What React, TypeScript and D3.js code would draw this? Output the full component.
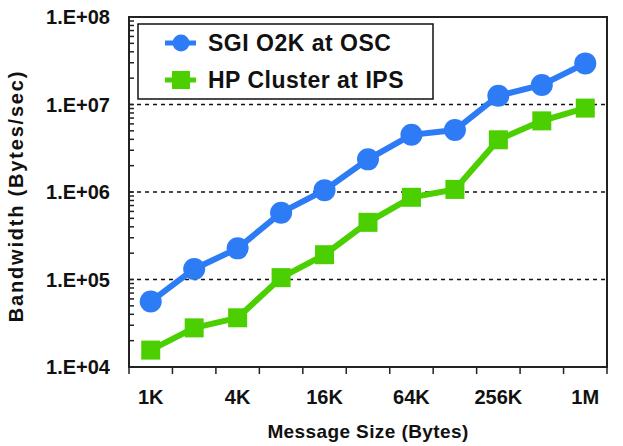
import { useRef, useEffect } from 'react';
import * as d3 from 'd3';

const sizes = ['1K', '2K', '4K', '8K', '16K', '32K', '64K', '128K', '256K', '512K', '1M'];
const shownLabels = ['1K', '4K', '16K', '64K', '256K', '1M'];
const sgiO2K = [5.6e4, 1.32e5, 2.27e5, 5.8e5, 1.05e6, 2.36e6, 4.5e6, 5.1e6, 1.26e7, 1.67e7, 2.95e7];
const hpCluster = [1.56e4, 2.8e4, 3.65e4, 1.05e5, 1.92e5, 4.5e5, 8.7e5, 1.07e6, 3.95e6, 6.5e6, 9.1e6];
const yTicks = [1e4, 1e5, 1e6, 1e7, 1e8];
const gridVals = [1e5, 1e6, 1e7];

const W = 623;
const H = 446;
const BLUE = '#2d7cf6';
const GREEN = '#4ccf00';
const FONT = '"Liberation Sans", Arial, Helvetica, sans-serif';

export default function App() {
  const svgRef = useRef<SVGSVGElement>(null);

  useEffect(() => {
    const svg = d3.select(svgRef.current);
    svg.selectAll('*').remove();

    const pad = { top: 17, right: 16, bottom: 79, left: 129 };
    const x0 = pad.left, x1 = W - pad.right;
    const y0 = H - pad.bottom, y1 = pad.top;

    const x = d3.scaleBand<string>().domain(sizes).range([x0, x1]).paddingInner(0).paddingOuter(0);
    const y = d3.scaleLog().domain([1e4, 1e8]).range([y0, y1]);
    const cx = (s: string) => (x(s) ?? 0) + x.bandwidth() / 2;

    // dashed grid
    gridVals.forEach(v => {
      svg.append('line')
        .attr('x1', x0).attr('x2', x1).attr('y1', y(v)).attr('y2', y(v))
        .attr('stroke', '#111').attr('stroke-width', 1.5).attr('stroke-dasharray', '4,4');
    });

    // frame
    svg.append('rect')
      .attr('x', x0).attr('y', y1).attr('width', x1 - x0).attr('height', y0 - y1)
      .attr('fill', 'none').attr('stroke', '#222').attr('stroke-width', 2);

    // y minor + major ticks (inward)
    const minor: number[] = [];
    for (let e = 4; e < 8; e++) {
      for (let m = 1; m <= 9; m++) minor.push(m * Math.pow(10, e));
    }
    minor.forEach(v => {
      svg.append('line')
        .attr('x1', x0).attr('x2', x0 + 5).attr('y1', y(v)).attr('y2', y(v))
        .attr('stroke', '#222').attr('stroke-width', 1.5);
    });

    // x ticks (outward)
    const bounds = sizes.map(s => x(s) ?? 0).concat([x1]);
    bounds.forEach(b => {
      svg.append('line')
        .attr('x1', b).attr('x2', b).attr('y1', y0).attr('y2', y0 + 7)
        .attr('stroke', '#222').attr('stroke-width', 1.5);
    });

    // y tick labels
    const fmt = (v: number) => `1.E+${String(Math.round(Math.log10(v))).padStart(2, '0')}`;
    yTicks.forEach(v => {
      svg.append('text')
        .attr('x', 110).attr('y', y(v)).attr('dy', '0.36em')
        .attr('text-anchor', 'end').attr('font-family', FONT).attr('font-weight', 'bold')
        .attr('font-size', 20).attr('fill', '#111').text(fmt(v));
    });

    // x tick labels
    shownLabels.forEach(s => {
      svg.append('text')
        .attr('x', cx(s)).attr('y', 404)
        .attr('text-anchor', 'middle').attr('font-family', FONT).attr('font-weight', 'bold')
        .attr('font-size', 20).attr('fill', '#111').text(s);
    });

    // axis titles
    svg.append('text')
      .attr('x', (x0 + x1) / 2).attr('y', 438)
      .attr('text-anchor', 'middle').attr('font-family', FONT).attr('font-weight', 'bold')
      .attr('font-size', 19).attr('letter-spacing', 0.4).attr('fill', '#111')
      .text('Message Size (Bytes)');
    svg.append('text')
      .attr('transform', `translate(23,${(y0 + y1) / 2 + 4}) rotate(-90)`)
      .attr('text-anchor', 'middle').attr('font-family', FONT).attr('font-weight', 'bold')
      .attr('font-size', 20).attr('letter-spacing', 1.8).attr('fill', '#111')
      .text('Bandwidth (Bytes/sec)');

    const line = d3.line<number>()
      .x((_, i) => cx(sizes[i]))
      .y(d => y(d));

    // HP cluster
    svg.append('path').datum(hpCluster)
      .attr('d', line).attr('fill', 'none')
      .attr('stroke', GREEN).attr('stroke-width', 6).attr('stroke-linejoin', 'miter');
    const sq = 19;
    hpCluster.forEach((v, i) => {
      svg.append('rect')
        .attr('x', cx(sizes[i]) - sq / 2).attr('y', y(v) - sq / 2)
        .attr('width', sq).attr('height', sq).attr('fill', GREEN);
    });

    // SGI
    svg.append('path').datum(sgiO2K)
      .attr('d', line).attr('fill', 'none')
      .attr('stroke', BLUE).attr('stroke-width', 6);
    sgiO2K.forEach((v, i) => {
      svg.append('circle')
        .attr('cx', cx(sizes[i])).attr('cy', y(v)).attr('r', 11).attr('fill', BLUE);
    });

    // legend
    const lg = svg.append('g');
    lg.append('rect')
      .attr('x', 138).attr('y', 24).attr('width', 295).attr('height', 75)
      .attr('fill', '#fff').attr('stroke', '#111').attr('stroke-width', 1.5);
    const items = [
      { name: 'SGI O2K at OSC', color: BLUE, shape: 'circle', yy: 43 },
      { name: 'HP Cluster at IPS', color: GREEN, shape: 'square', yy: 80 },
    ];
    items.forEach(it => {
      lg.append('line')
        .attr('x1', 165).attr('x2', 196).attr('y1', it.yy).attr('y2', it.yy)
        .attr('stroke', it.color).attr('stroke-width', 5);
      if (it.shape === 'circle') {
        lg.append('circle').attr('cx', 181).attr('cy', it.yy).attr('r', 8.5).attr('fill', it.color);
      } else {
        lg.append('rect').attr('x', 172).attr('y', it.yy - 9).attr('width', 18).attr('height', 18).attr('fill', it.color);
      }
      lg.append('text')
        .attr('x', 208).attr('y', it.yy).attr('dy', '0.36em')
        .attr('font-family', FONT).attr('font-weight', 'bold')
        .attr('font-size', 23).attr('letter-spacing', 0.5).attr('fill', '#111').text(it.name);
    });
  }, []);

  return (
    <div style={{ position: 'absolute', left: 0, top: 0, width: W, height: H, background: '#fff' }}>
      <svg ref={svgRef} width={W} height={H} style={{ display: 'block' }} />
    </div>
  );
}
